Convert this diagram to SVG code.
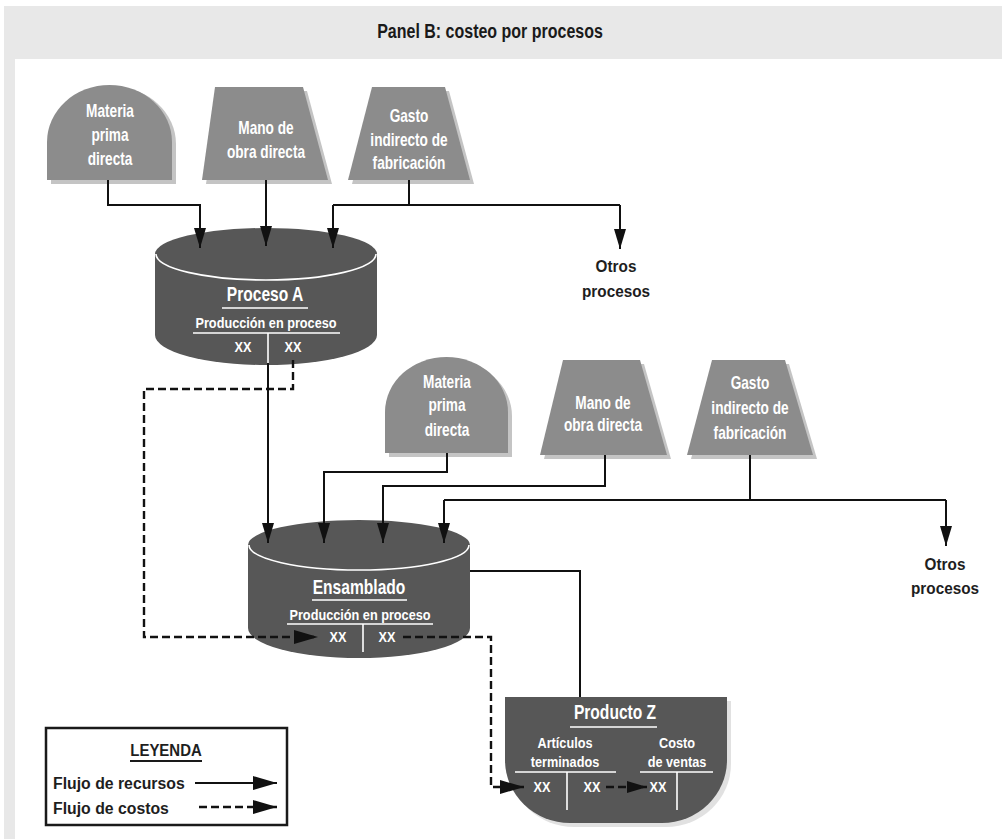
<svg xmlns="http://www.w3.org/2000/svg" width="1002" height="839" viewBox="0 0 1002 839">
  <style>
    .src { fill: #8c8c8c; }
    .shadow { fill: #c4c4c4; }
    .dark { fill: #575757; }
    .nt { font-family: "Liberation Sans", Arial, sans-serif; font-weight: bold; fill: #ffffff; text-anchor: middle; }
    .n16 { font-size: 17.5px; }
    .n19 { font-size: 19.5px; }
    .n15 { font-size: 15.5px; }
    .bt { font-family: "Liberation Sans", Arial, sans-serif; font-weight: bold; fill: #1e1e1e; font-size: 17px; }
    .wl { stroke: #ffffff; stroke-width: 1.6; fill: none; }
    .flow { stroke: #111111; stroke-width: 2; fill: none; }
    .cost { stroke: #111111; stroke-width: 2.4; fill: none; stroke-dasharray: 8 4; }
  </style>
  <defs>
    <marker id="arrow" viewBox="0 0 20 12" refX="20" refY="6" markerWidth="20" markerHeight="12" markerUnits="userSpaceOnUse" orient="auto">
      <path d="M0,0 L20,6 L0,12 Z" fill="#111111"/>
    </marker>
    <marker id="arrowBig" viewBox="0 0 24 14" refX="24" refY="7" markerWidth="24" markerHeight="14" markerUnits="userSpaceOnUse" orient="auto">
      <path d="M0,0 L24,7 L0,14 Z" fill="#111111"/>
    </marker>
  </defs>

  <!-- page background and panel -->
  <rect x="0" y="0" width="1002" height="839" fill="#ffffff"/>
  <rect x="4" y="6" width="998" height="833" fill="#e8e8e8"/>
  <rect x="15" y="59" width="987" height="780" fill="#ffffff"/>
  <text transform="matrix(0.82 0 0 1 490 38)" text-anchor="middle" font-family="Liberation Sans, Arial, sans-serif" font-weight="bold" font-size="19.5" fill="#1a1a1a">Panel B: costeo por procesos</text>

  <!-- first row of inputs -->
  <g id="mpd1">
    <path class="shadow" d="M51,184 V144 A62.5,57 0 0 1 176,144 V184 Z"/>
    <path class="src" d="M47,180 V142 A62.5,57 0 0 1 172,142 V180 Z"/>
    <text class="nt n16" transform="matrix(0.78 0 0 1 110 117)">Materia</text>
    <text class="nt n16" transform="matrix(0.78 0 0 1 110 141)">prima</text>
    <text class="nt n16" transform="matrix(0.78 0 0 1 110 165)">directa</text>
  </g>
  <g id="mod1">
    <path class="shadow" d="M219,91 H307 L332,184 H206 Z"/>
    <path class="src" d="M215,87 H303 L328,180 H202 Z"/>
    <text class="nt n16" transform="matrix(0.78 0 0 1 266 134)">Mano de</text>
    <text class="nt n16" transform="matrix(0.78 0 0 1 266 158)">obra directa</text>
  </g>
  <g id="gif1">
    <path class="shadow" d="M376,91 H449 L474,184 H352 Z"/>
    <path class="src" d="M372,87 H445 L470,180 H348 Z"/>
    <text class="nt n16" transform="matrix(0.78 0 0 1 409 122)">Gasto</text>
    <text class="nt n16" transform="matrix(0.78 0 0 1 409 146)">indirecto de</text>
    <text class="nt n16" transform="matrix(0.78 0 0 1 409 169)">fabricación</text>
  </g>

  <g id="otros1">
    <text class="bt" transform="matrix(0.9 0 0 1 616 272)" text-anchor="middle">Otros</text>
    <text class="bt" transform="matrix(0.9 0 0 1 616 297)" text-anchor="middle">procesos</text>
  </g>

  <!-- Proceso A -->
  <g id="procesoA">
    <path class="dark" d="M155,254 A111,26 0 0 1 377,254 V335 A111,30 0 0 1 155,335 Z"/>
    <path class="wl" stroke-width="2" d="M156,254 A110,26 0 0 0 376,254"/>
    <text class="nt n19" transform="matrix(0.8 0 0 1 265 301)">Proceso A</text>
    <line class="wl" x1="222" y1="308" x2="308" y2="308"/>
    <text class="nt n15" transform="matrix(0.82 0 0 1 266 328)">Producción en proceso</text>
    <line class="wl" x1="193" y1="333" x2="340" y2="333"/>
    <line class="wl" x1="268" y1="333" x2="268" y2="363"/>
    <text class="nt n15" transform="matrix(0.82 0 0 1 243 352)">XX</text>
    <text class="nt n15" transform="matrix(0.82 0 0 1 293 352)">XX</text>
  </g>

  <!-- second row of inputs -->
  <g id="mpd2">
    <path class="shadow" d="M389,457 V416 A61.5,55 0 0 1 512,416 V457 Z"/>
    <path class="src" d="M385,453 V412 A61.5,55 0 0 1 508,412 V453 Z"/>
    <text class="nt n16" transform="matrix(0.78 0 0 1 447 388)">Materia</text>
    <text class="nt n16" transform="matrix(0.78 0 0 1 447 411)">prima</text>
    <text class="nt n16" transform="matrix(0.78 0 0 1 447 436)">directa</text>
  </g>
  <g id="mod2">
    <path class="shadow" d="M567,364 H644 L671,459 H544 Z"/>
    <path class="src" d="M563,360 H640 L667,455 H540 Z"/>
    <text class="nt n16" transform="matrix(0.78 0 0 1 603 409)">Mano de</text>
    <text class="nt n16" transform="matrix(0.78 0 0 1 603 431)">obra directa</text>
  </g>
  <g id="gif2">
    <path class="shadow" d="M716,364 H789 L817,459 H691 Z"/>
    <path class="src" d="M712,360 H785 L813,455 H687 Z"/>
    <text class="nt n16" transform="matrix(0.78 0 0 1 750 389)">Gasto</text>
    <text class="nt n16" transform="matrix(0.78 0 0 1 750 414)">indirecto de</text>
    <text class="nt n16" transform="matrix(0.78 0 0 1 750 439)">fabricación</text>
  </g>

  <g id="otros2">
    <text class="bt" transform="matrix(0.9 0 0 1 945 570)" text-anchor="middle">Otros</text>
    <text class="bt" transform="matrix(0.9 0 0 1 945 594)" text-anchor="middle">procesos</text>
  </g>

  <!-- Ensamblado -->
  <g id="ensamblado">
    <path class="dark" d="M248,545 A111,25 0 0 1 470,545 V628 A111,30 0 0 1 248,628 Z"/>
    <path class="wl" stroke-width="2" d="M249,545 A110,25 0 0 0 469,545"/>
    <text class="nt n19" transform="matrix(0.8 0 0 1 359 594)">Ensamblado</text>
    <line class="wl" x1="312" y1="600" x2="407" y2="600"/>
    <text class="nt n15" transform="matrix(0.82 0 0 1 360 620)">Producción en proceso</text>
    <line class="wl" x1="287" y1="624" x2="433" y2="624"/>
    <line class="wl" x1="363" y1="624" x2="363" y2="652"/>
    <text class="nt n15" transform="matrix(0.82 0 0 1 338 642)">XX</text>
    <text class="nt n15" transform="matrix(0.82 0 0 1 387 642)">XX</text>
  </g>

  <!-- Producto Z -->
  <g id="productoZ">
    <path class="shadow" d="M509,701 H731 V764 A65,63 0 0 1 666,827 H574 A65,63 0 0 1 509,764 Z" opacity="0.5"/>
    <path class="dark" d="M505,697 H727 V760 A65,63 0 0 1 662,823 H570 A65,63 0 0 1 505,760 Z"/>
    <text class="nt n19" transform="matrix(0.8 0 0 1 615 719)">Producto Z</text>
    <line class="wl" x1="570" y1="727" x2="657" y2="727"/>
    <text class="nt n15" transform="matrix(0.82 0 0 1 565 748)">Artículos</text>
    <text class="nt n15" transform="matrix(0.82 0 0 1 565 767)">terminados</text>
    <text class="nt n15" transform="matrix(0.82 0 0 1 677 748)">Costo</text>
    <text class="nt n15" transform="matrix(0.82 0 0 1 677 767)">de ventas</text>
    <line class="wl" x1="515" y1="772" x2="616" y2="772"/>
    <line class="wl" x1="640" y1="772" x2="713" y2="772"/>
    <line class="wl" x1="567" y1="772" x2="567" y2="810"/>
    <line class="wl" x1="677" y1="772" x2="677" y2="810"/>
    <text class="nt n15" transform="matrix(0.82 0 0 1 542 792)">XX</text>
    <text class="nt n15" transform="matrix(0.82 0 0 1 592 792)">XX</text>
    <text class="nt n15" transform="matrix(0.82 0 0 1 658 792)">XX</text>
  </g>

  <!-- connectors, drawn over the nodes so the arrowheads stay visible -->
  <g id="connectors">
    <!-- resource flows into Proceso A -->
    <path class="flow" d="M108,180 V205 H200 V248" marker-end="url(#arrow)"/>
    <path class="flow" d="M266,180 V246" marker-end="url(#arrow)"/>
    <path class="flow" d="M409,180 V205"/>
    <path class="flow" d="M333,205 H620"/>
    <path class="flow" d="M333,205 V248" marker-end="url(#arrow)"/>
    <path class="flow" d="M620,205 V249" marker-end="url(#arrow)"/>
    <!-- Proceso A to Ensamblado -->
    <path class="flow" d="M268,363 V543" marker-end="url(#arrow)"/>
    <!-- resource flows into Ensamblado -->
    <path class="flow" d="M447,453 V472 H324 V543" marker-end="url(#arrow)"/>
    <path class="flow" d="M605,455 V486 H383 V543" marker-end="url(#arrow)"/>
    <path class="flow" d="M750,455 V500"/>
    <path class="flow" d="M444,500 H946"/>
    <path class="flow" d="M444,500 V543" marker-end="url(#arrow)"/>
    <path class="flow" d="M946,500 V546" marker-end="url(#arrow)"/>
    <!-- Ensamblado to Producto Z -->
    <path class="flow" d="M470,571 H580 V697"/>
    <!-- cost flows -->
    <path class="cost" d="M293,360 V389 H144 V637 H318" marker-end="url(#arrowBig)"/>
    <path class="cost" d="M403,637 H491 V787 H524" marker-end="url(#arrowBig)"/>
    <path class="cost" d="M606,787 H647" marker-end="url(#arrow)"/>
  </g>

  <!-- legend -->
  <g id="legend">
    <rect x="46" y="728" width="241" height="97" fill="#ffffff" stroke="#1a1a1a" stroke-width="2.5"/>
    <text class="bt" transform="matrix(0.88 0 0 1 166 756)" text-anchor="middle">LEYENDA</text>
    <line x1="130" y1="761" x2="202" y2="761" stroke="#1a1a1a" stroke-width="2"/>
    <text class="bt" transform="matrix(0.93 0 0 1 53 789)">Flujo de recursos</text>
    <text class="bt" transform="matrix(0.93 0 0 1 53 814)">Flujo de costos</text>
    <path class="flow" d="M195,783 H277" marker-end="url(#arrowBig)"/>
    <path class="cost" d="M199,807 H277" marker-end="url(#arrowBig)"/>
  </g>
</svg>
